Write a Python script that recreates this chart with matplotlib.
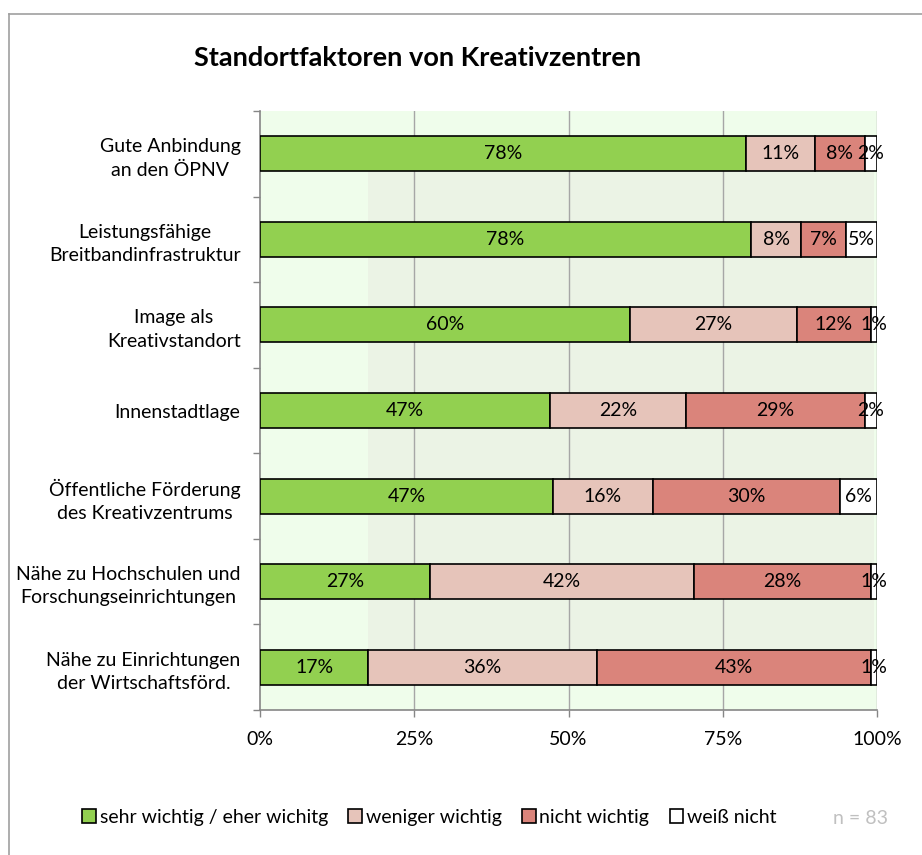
import matplotlib
matplotlib.use("Agg")
import matplotlib.pyplot as plt
from matplotlib.patches import Rectangle
from matplotlib.lines import Line2D
import numpy as np

plt.rcParams['font.family'] = ['Lato', 'DejaVu Sans']

categories = [
    "Gute Anbindung\nan den ÖPNV",
    "Leistungsfähige\nBreitbandinfrastruktur",
    "Image als\nKreativstandort",
    "Innenstadtlage",
    "Öffentliche Förderung\ndes Kreativzentrums",
    "Nähe zu Hochschulen und\nForschungseinrichtungen",
    "Nähe zu Einrichtungen\nder Wirtschaftsförd.",
]
series_names = ["sehr wichtig / eher wichitg", "weniger wichtig", "nicht wichtig", "weiß nicht"]
sehr_wichtig = [78, 78, 60, 47, 47, 27, 17]
weniger_wichtig = [11, 8, 27, 22, 16, 42, 36]
nicht_wichtig = [8, 7, 12, 29, 30, 28, 43]
weiss_nicht = [2, 5, 1, 2, 6, 1, 1]
x_ticks = [0, 25, 50, 75, 100]
x_tick_labels = ["0%", "25%", "50%", "75%", "100%"]

colors = ["#92d050", "#e6c4ba", "#da847b", "#ffffff"]

raw = np.array([sehr_wichtig, weniger_wichtig, nicht_wichtig, weiss_nicht], dtype=float)
totals = raw.sum(axis=0)
norm = raw / totals * 100

fig = plt.figure(figsize=(9.22, 8.55), dpi=100)
ax = fig.add_axes([260/922, 1-710/855, (877-260)/922, (710-111)/855])
ax.set_facecolor("#effdeb")

y = np.arange(len(categories))
bar_h = 0.41

# darker band in plot area
ax.add_patch(Rectangle((17.5, -bar_h/2), 82.0, 6.0, facecolor="#ebf3e5",
                       edgecolor="none", zorder=0.5))

for xv in x_ticks[1:]:
    ax.axvline(xv, color="#a6a6a6", lw=1.0, zorder=1)

left = np.zeros(len(categories))
for i in range(4):
    ax.barh(y, norm[i], left=left, height=bar_h, color=colors[i],
            edgecolor="black", linewidth=1.2, zorder=3, label=series_names[i])
    for j in range(len(categories)):
        ax.text(left[j] + norm[i][j]/2, y[j], f"{int(raw[i][j])}%", ha="center",
                va="center", fontsize=14, color="black", zorder=4)
    left += norm[i]

ax.set_xlim(0, 100)
ax.set_ylim(6.5, -0.5)
ax.set_xticks(x_ticks)
ax.set_xticklabels(x_tick_labels, fontsize=14)
ax.set_yticks(y)
ax.set_yticklabels(categories, fontsize=14, multialignment="center", linespacing=1.45)
ax.tick_params(axis="y", which="major", length=0, pad=14)
ax.set_yticks(np.arange(-0.5, 7.0, 1.0), minor=True)
ax.tick_params(axis="y", which="minor", length=5, color="#868686", width=1)
ax.tick_params(axis="x", which="major", length=5, color="#868686", width=1, pad=10)
for s in ["top", "right"]:
    ax.spines[s].set_visible(False)
for s in ["left", "bottom"]:
    ax.spines[s].set_color("#868686")
    ax.spines[s].set_linewidth(1.2)

fig.text(418/922, 1-58/855, "Standortfaktoren von Kreativzentren", ha="center",
         va="center", fontsize=19.5, fontweight="bold")

leg_handles = [Rectangle((0, 0), 1, 1, facecolor=c, edgecolor="black", lw=1.2) for c in colors]
leg = fig.legend(leg_handles, series_names, loc="center left",
                 bbox_to_anchor=(82/922, 1-817/855), ncol=4, frameon=False,
                 fontsize=14, handlelength=0.7, handleheight=0.7, handletextpad=0.2,
                 columnspacing=1.05, borderaxespad=0, borderpad=0)

fig.text(860/922, 1-818/855, "n = 83", ha="center", va="center", fontsize=14, color="#c0c0c0")

# frame lines of chart area
fig.add_artist(Line2D([9/922, 1], [1-14/855, 1-14/855], color="#a0a0a0", lw=1.2))
fig.add_artist(Line2D([9/922, 9/922], [0, 1-14/855], color="#a0a0a0", lw=1.2))

fig.savefig("out.png", dpi=100, facecolor="white")
